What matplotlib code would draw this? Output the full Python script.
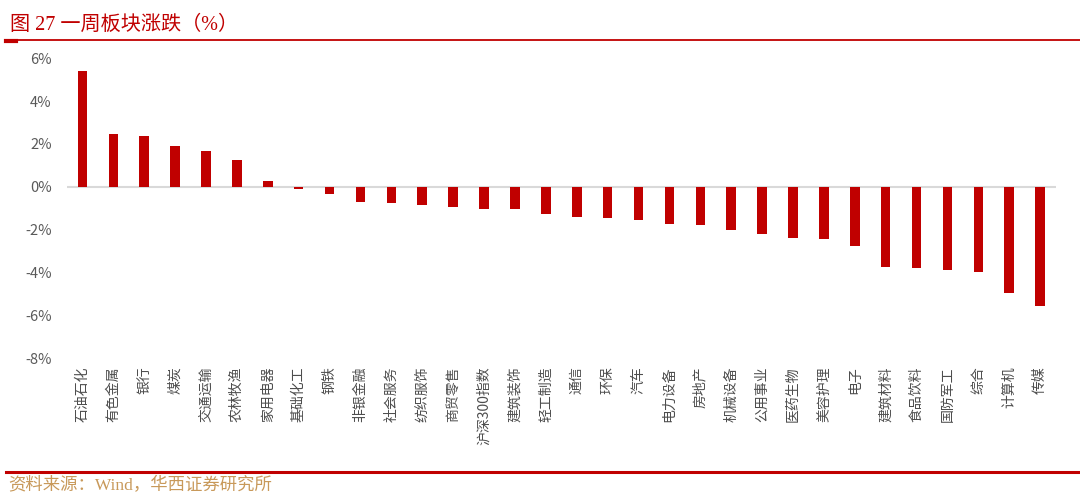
"""Weekly sector performance bar chart, saved to out.png."""

import matplotlib
matplotlib.use("Agg")
import matplotlib.pyplot as plt
from matplotlib.lines import Line2D
from matplotlib.ticker import FuncFormatter

plt.rcParams["font.family"] = ["Noto Sans CJK SC", "DejaVu Sans"]

sectors = [
    "石油石化", "有色金属", "银行", "煤炭", "交通运输", "农林牧渔", "家用电器",
    "基础化工", "钢铁", "非银金融", "社会服务", "纺织服饰", "商贸零售",
    "沪深300指数", "建筑装饰", "轻工制造", "通信", "环保", "汽车", "电力设备",
    "房地产", "机械设备", "公用事业", "医药生物", "美容护理", "电子",
    "建筑材料", "食品饮料", "国防军工", "综合", "计算机", "传媒",
]
weekly_change = [
    5.42, 2.48, 2.38, 1.88, 1.69, 1.27, 0.26,
    -0.11, -0.35, -0.71, -0.74, -0.84, -0.96,
    -1.03, -1.03, -1.26, -1.42, -1.45, -1.55, -1.72,
    -1.81, -2.00, -2.20, -2.39, -2.42, -2.77,
    -3.76, -3.79, -3.87, -4.00, -4.98, -5.58,
]
y_ticks = [6, 4, 2, 0, -2, -4, -6, -8]

RED = "#c00000"
GRAY = "#595959"
SERIF_MIX = ["Liberation Serif", "Noto Sans CJK SC"]

W, H = 1080, 499
fig = plt.figure(figsize=(W / 100, H / 100), dpi=100)

ax = fig.add_axes([67 / W, 1 - 358 / H, (1055.6 - 67) / W, (358 - 58.3) / H])
x = range(len(sectors))
ax.bar(x, weekly_change, width=0.31, color=RED, zorder=3)
ax.axhline(0, color="#d9d9d9", linewidth=1.5, zorder=2)

ax.set_xlim(-0.5, len(sectors) - 0.5)
ax.set_ylim(-8, 6)
ax.set_yticks(y_ticks)
ax.yaxis.set_major_formatter(FuncFormatter(lambda v, _: f"{v:.0f}%"))
ax.set_xticks(list(x))
ax.set_xticklabels(sectors, rotation=90, fontsize=10, color="#4d4d4d")
ax.tick_params(axis="y", length=0, pad=11, labelsize=10.5, labelcolor=GRAY)
ax.tick_params(axis="x", length=0, pad=6)
for spine in ax.spines.values():
    spine.set_visible(False)

# header and footer decorations
fig.text(10 / W, 1 - 25 / H, "图 27 一周板块涨跌（%）", color=RED,
         fontsize=14.5, va="center", ha="left", family=SERIF_MIX)
fig.add_artist(Line2D([6 / W, 1], [1 - 40 / H] * 2, color=RED, linewidth=1.3))
fig.add_artist(Line2D([6 / W, 16 / W], [1 - 41 / H] * 2, color=RED, linewidth=3))
fig.add_artist(Line2D([6 / W, 1], [1 - 472 / H] * 2, color=RED, linewidth=2.2))
fig.text(8 / W, 1 - 486 / H, "资料来源：Wind，华西证券研究所", color="#c8995a",
         fontsize=12.5, va="center", ha="left", family=SERIF_MIX)

fig.savefig("out.png", dpi=100)
